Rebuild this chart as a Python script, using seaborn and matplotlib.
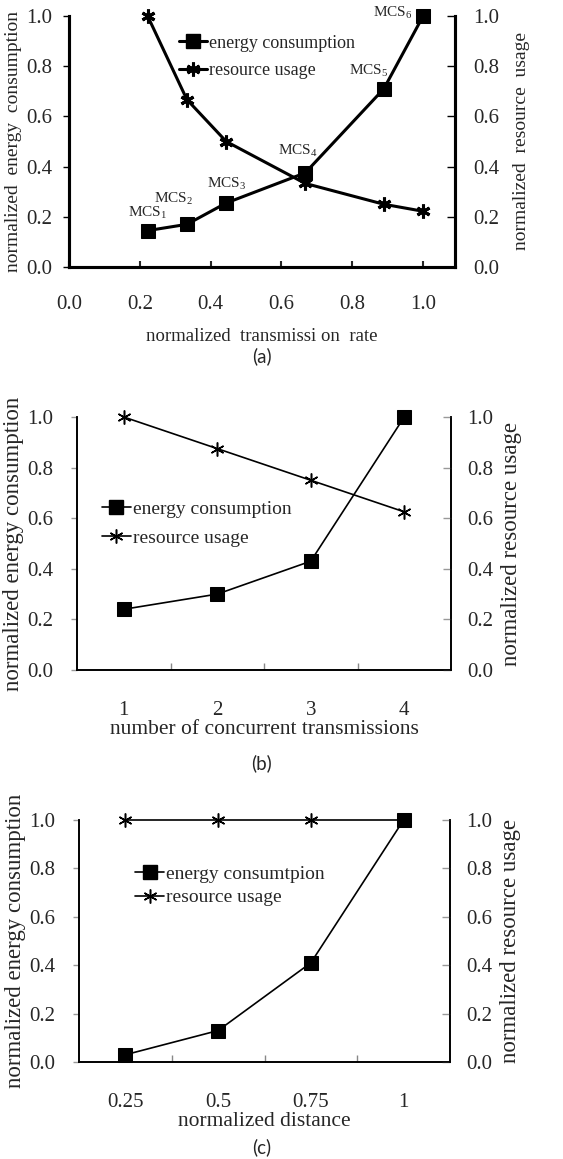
import numpy as np
import pandas as pd
import seaborn as sns
import matplotlib.pyplot as plt
from matplotlib.lines import Line2D
from matplotlib.ticker import FixedLocator

# panel (a): MCS levels vs normalized transmission rate
rate_a = [0.222, 0.333, 0.444, 0.667, 0.889, 1.0]
energy_a = [0.145, 0.17, 0.255, 0.375, 0.71, 1.0]
resource_a = [1.0, 0.667, 0.5, 0.333, 0.25, 0.222]
mcs_labels = ['MCS$_1$', 'MCS$_2$', 'MCS$_3$', 'MCS$_4$', 'MCS$_5$', 'MCS$_6$']

# panel (b): number of concurrent transmissions
conc_b = ['1', '2', '3', '4']
energy_b = [0.24, 0.30, 0.43, 1.0]
resource_b = [1.0, 0.875, 0.75, 0.625]

# panel (c): normalized distance
dist_c = ['0.25', '0.5', '0.75', '1']
energy_c = [0.03, 0.13, 0.41, 1.0]
resource_c = [1.0, 1.0, 1.0, 1.0]

sns.set_style('ticks')
plt.rcParams['font.family'] = ['Liberation Serif', 'DejaVu Serif']
plt.rcParams['mathtext.fontset'] = 'custom'
plt.rcParams['mathtext.rm'] = 'Liberation Serif'
plt.rcParams['mathtext.it'] = 'Liberation Serif:italic'

W, H = 563, 1159
fig = plt.figure(figsize=(W / 100, H / 100), dpi=100)
ASTER = (6, 2, 0)


def axes_px(left, top, right, bottom):
    return fig.add_axes([left / W, 1 - bottom / H, (right - left) / W, (bottom - top) / H])


def style_axes(ax, ax2, lw, tick_color, lpad, rpad, size):
    for a in (ax, ax2):
        a.spines['top'].set_visible(False)
        for s in ('left', 'right', 'bottom'):
            a.spines[s].set_linewidth(lw)
            a.spines[s].set_color('black')
    ax.set_ylim(0, 1.0)
    ax2.set_ylim(0, 1.0)
    ticks = [0.0, 0.2, 0.4, 0.6, 0.8, 1.0]
    ax.set_yticks(ticks)
    ax2.set_yticks(ticks)
    ax.set_yticklabels([f'{t:.1f}' for t in ticks])
    ax2.set_yticklabels([f'{t:.1f}' for t in ticks])
    ax.tick_params(axis='y', direction='out', length=4, width=1, color=tick_color,
                   pad=lpad, labelsize=size)
    ax2.tick_params(axis='y', direction='in', length=6, width=1, color=tick_color,
                    pad=rpad, labelsize=size)


# ---------- (a) ----------
ax = axes_px(69, 16, 455, 267)
ax2 = ax.twinx()
df_a = pd.DataFrame({'rate': rate_a, 'energy': energy_a, 'resource': resource_a})
sns.lineplot(data=df_a, x='rate', y='energy', ax=ax, color='black', lw=2.2, clip_on=False,
             marker='s', markersize=10, markeredgecolor='black')
sns.lineplot(data=df_a, x='rate', y='resource', ax=ax2, color='black', lw=2.2, clip_on=False,
             marker=ASTER, markersize=10, markeredgewidth=2.2, markeredgecolor='black')
ax.set_xlim(0, 1.09)
ax.set_xticks([0.0, 0.2, 0.4, 0.6, 0.8, 1.0])
ax.set_xticklabels(['0.0', '0.2', '0.4', '0.6', '0.8', '1.0'], fontsize=15)
ax.tick_params(axis='x', direction='in', length=4, width=1.5, pad=20)
style_axes(ax, ax2, 2.2, 'black', 8, 13, 15)
ax.set_xlabel('normalized  transmissi on  rate', fontsize=13.5, labelpad=10)
ax.set_ylabel('normalized  energy  consumption', fontsize=14, labelpad=3)
ax2.set_ylabel('normalized  resource  usage', fontsize=14, labelpad=10)
offsets = [(0, 13), (-10, 18), (0, 13.7), (-5, 15.5), (-11, 12.5), (-21.6, 2)]
for x, y, lab, off in zip(rate_a, energy_a, mcs_labels, offsets):
    ax2.annotate(lab, (x, y), xytext=off, textcoords='offset points',
                 ha='center', va='center', fontsize=11, zorder=10)
h_a = [Line2D([], [], color='black', lw=2.2, marker='s', markersize=10),
       Line2D([], [], color='black', lw=2.2, marker=ASTER, markersize=10, markeredgewidth=2.2)]
ax2.legend(h_a, ['energy consumption', 'resource usage'], loc='upper left',
           bbox_to_anchor=(0.265, 0.955), frameon=False, fontsize=13,
           handlelength=1.6, handletextpad=0.1, labelspacing=0.6, borderaxespad=0)
fig.text(262 / W, 1 - 356 / H, '(a)', ha='center', va='center', fontsize=13.5, family='Lato')


def category_panel(top, bottom, left, right, cats, energy, resource, xlabel, leg_labels,
                   leg_anchor, spacing, cap, cap_y):
    ax = axes_px(left, top, right, bottom)
    ax2 = ax.twinx()
    df = pd.DataFrame({'x': cats, 'energy': energy, 'resource': resource})
    sns.lineplot(data=df, x='x', y='energy', ax=ax, color='black', lw=1.2, sort=False,
                 clip_on=False, marker='s', markersize=10, markeredgecolor='black')
    sns.lineplot(data=df, x='x', y='resource', ax=ax2, color='black', lw=1.2, sort=False,
                 clip_on=False, marker=ASTER, markersize=10, markeredgewidth=1.1,
                 markeredgecolor='black')
    ax.set_xlim(-0.5, len(cats) - 0.5)
    ax.set_xticks(range(len(cats)))
    ax.set_xticklabels(cats, fontsize=15)
    ax.xaxis.set_minor_locator(FixedLocator(np.arange(0.5, len(cats) - 0.5, 1.0)))
    ax.tick_params(axis='x', which='major', length=0, pad=22)
    ax.tick_params(axis='x', which='minor', direction='in', length=5, width=1, color='#888888')
    style_axes(ax, ax2, 1.2, '#999999', 13, 11.5, 15)
    ax.set_xlabel(xlabel, fontsize=15.5, labelpad=0)
    ax.set_ylabel('normalized energy consumption', fontsize=16.5, labelpad=2)
    ax2.set_ylabel('normalized resource usage', fontsize=16.5, labelpad=6)
    h = [Line2D([], [], color='black', lw=1.2, marker='s', markersize=10),
         Line2D([], [], color='black', lw=1.2, marker=ASTER, markersize=10, markeredgewidth=1.1)]
    ax2.legend(h, leg_labels, loc='upper left', bbox_to_anchor=leg_anchor, frameon=False,
               fontsize=14, handlelength=1.5, handletextpad=0.1, labelspacing=spacing,
               borderaxespad=0)
    fig.text(262 / W, 1 - cap_y / H, cap, ha='center', va='center', fontsize=13.5, family='Lato')


category_panel(417, 670, 77, 451, conc_b, energy_b, resource_b,
               'number of concurrent transmissions',
               ['energy consumption', 'resource usage'], (0.045, 0.70), 0.55, '(b)', 763)
category_panel(820, 1062, 79, 450, dist_c, energy_c, resource_c,
               'normalized distance',
               ['energy consumtpion', 'resource usage'], (0.13, 0.845), 0.3, '(c)', 1147)

fig.savefig('out.png', dpi=100)
